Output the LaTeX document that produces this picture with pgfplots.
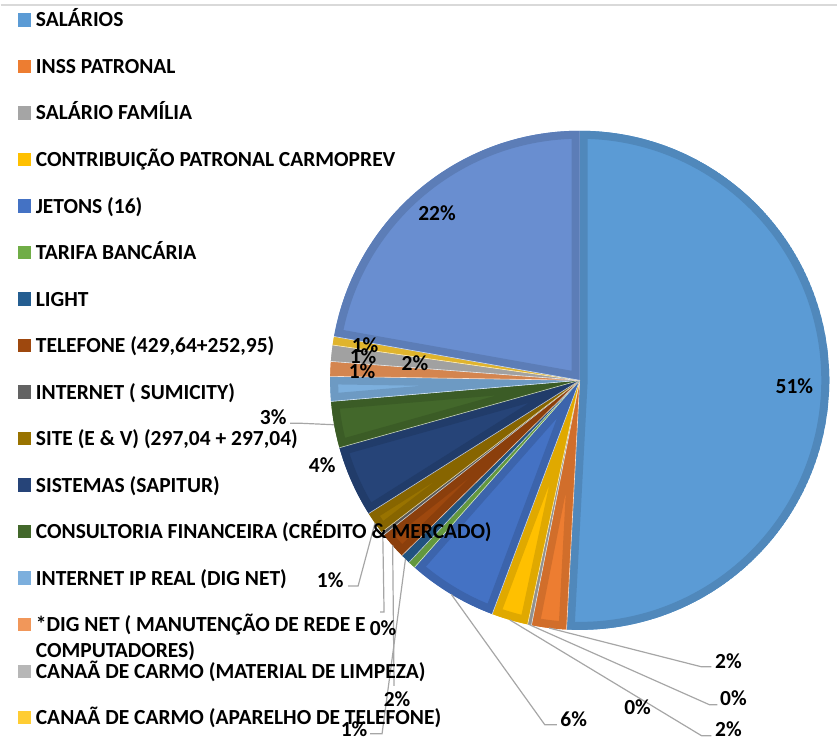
\documentclass[border=0pt]{standalone}
\usepackage{pgfplots}
\usepackage{pgfplotstable}
\pgfplotsset{compat=1.18}
\usepackage{fontspec}
\setmainfont{Carlito}
\definecolor{c1}{HTML}{5B9BD5}
\definecolor{c2}{HTML}{ED7D31}
\definecolor{c3}{HTML}{A5A5A5}
\definecolor{c4}{HTML}{FFC000}
\definecolor{c5}{HTML}{4472C4}
\definecolor{c6}{HTML}{70AD47}
\definecolor{c7}{HTML}{255E91}
\definecolor{c8}{HTML}{9E480E}
\definecolor{c9}{HTML}{636363}
\definecolor{c10}{HTML}{997300}
\definecolor{c11}{HTML}{264478}
\definecolor{c12}{HTML}{43682B}
\definecolor{c13}{HTML}{7CAFDD}
\definecolor{c14}{HTML}{F1975A}
\definecolor{c15}{HTML}{B7B7B7}
\definecolor{c16}{HTML}{FFCD33}
\definecolor{c17}{HTML}{698ED0}
\definecolor{leadgray}{HTML}{A6A6A6}

% value = share of each item (percent), clockwise from 12 o'clock
\pgfplotstableread[col sep=semicolon]{
value;col;lab;lx;ly;lead;ex;ey;hx;hy
50.75;c1;51;795;387;0;0;0;0;0
2.25;c2;2;729;662;1;702;668;712;668
0.25;c3;0;734;699;1;710;706;718;706
2.35;c4;2;729;730;1;702;737;712;737
5.8;c5;6;574;720;1;545;726;557;726
0.48;c6;0;638;708;0;0;0;0;0
0.62;c7;1;354;730;1;382;735;370;735
1.75;c8;2;397;700;1;394;687;394;687
0.22;c9;0;383;629;1;384;613;380;613
1.45;c10;1;330;581;1;358;587;348;587
4.6;c11;4;322;466;0;0;0;0;0
3.0;c12;3;273;418;1;300;424;290;424
1.6;c13;2;415;364;0;0;0;0;0
0.95;c14;1;362;372;0;0;0;0;0
1.05;c15;1;363;357;0;0;0;0;0
0.55;c16;1;365;346;0;0;0;0;0
22.15;c17;22;437;214;0;0;0;0;0
}\slices
\pgfplotstablecreatecol[create col/expr accum={\pgfmathaccuma + \thisrow{value}}{0}]{cum}{\slices}

\newcommand\lfont{\fontsize{21.6}{26}\selectfont\bfseries}

\begin{document}
\begin{tikzpicture}
\begin{axis}[x=1bp, y=1bp, xmin=0, xmax=838, ymin=0, ymax=749,
  y dir=reverse, hide axis, clip=false]
\pgfplotsextra{
  \path (axis cs:0,0) rectangle (axis cs:838,749);
  \draw[black!15, line width=1.5bp] (axis cs:0,5) -- (axis cs:838,5);
  \pgfplotstablegetelem{16}{cum}\of\slices \let\total\pgfplotsretval
  \foreach \i in {0,...,16}{
    \pgfplotstablegetelem{\i}{value}\of\slices \let\v\pgfplotsretval
    \pgfplotstablegetelem{\i}{cum}\of\slices \let\c\pgfplotsretval
    \pgfplotstablegetelem{\i}{col}\of\slices \let\col\pgfplotsretval
    \pgfmathsetmacro\aS{90-(\c-\v)/\total*360}
    \pgfmathsetmacro\aE{90-\c/\total*360}
    \begin{scope}
      \clip (axis cs:580,381) -- ++(\aS:250bp) arc[start angle=\aS, end angle=\aE, radius=250bp] -- cycle;
      \fill[\col] (axis cs:580,381) -- ++(\aS:250bp) arc[start angle=\aS, end angle=\aE, radius=250bp] -- cycle;
      \draw[\col!88!black, line width=16bp, line join=round] (axis cs:580,381) -- ++(\aS:250bp) arc[start angle=\aS, end angle=\aE, radius=250bp] -- cycle;
    \end{scope}
    \draw[white!70!\col, line width=0.6bp] (axis cs:580,381) -- ++(\aS:250bp);
  }
  % leader lines and data labels
  \foreach \i in {0,...,16}{
    \pgfplotstablegetelem{\i}{value}\of\slices \let\v\pgfplotsretval
    \pgfplotstablegetelem{\i}{cum}\of\slices \let\c\pgfplotsretval
    \pgfplotstablegetelem{\i}{lead}\of\slices \let\ld\pgfplotsretval
    \pgfplotstablegetelem{\i}{lab}\of\slices \let\lb\pgfplotsretval
    \pgfplotstablegetelem{\i}{lx}\of\slices \let\lx\pgfplotsretval
    \pgfplotstablegetelem{\i}{ly}\of\slices \let\ly\pgfplotsretval
    \pgfplotstablegetelem{\i}{ex}\of\slices \let\ex\pgfplotsretval
    \pgfplotstablegetelem{\i}{ey}\of\slices \let\ey\pgfplotsretval
    \pgfplotstablegetelem{\i}{hx}\of\slices \let\hx\pgfplotsretval
    \pgfplotstablegetelem{\i}{hy}\of\slices \let\hy\pgfplotsretval
    \pgfmathsetmacro\aM{90-(\c-\v/2)/\total*360}
    \ifnum\ld=1
      \draw[leadgray, line width=1.2bp] (axis cs:580,381) ++(\aM:250bp) -- (axis cs:\ex,\ey) -- (axis cs:\hx,\hy);
    \fi
    \node[inner sep=0pt, font=\lfont] at (axis cs:\lx,\ly) {\lb\%};
  }
  % legend
  \foreach \nm [count=\k] in {SALÁRIOS, INSS PATRONAL, SALÁRIO FAMÍLIA,
      CONTRIBUIÇÃO PATRONAL CARMOPREV, JETONS (16), TARIFA BANCÁRIA, LIGHT,
      {TELEFONE (429,64+252,95)}, INTERNET ( SUMICITY), {SITE (E \& V) (297,04 + 297,04)},
      SISTEMAS (SAPITUR), CONSULTORIA FINANCEIRA (CRÉDITO \& MERCADO),
      INTERNET IP REAL (DIG NET), *DIG NET ( MANUTENÇÃO DE REDE E,
      CANAÃ DE CARMO (MATERIAL DE LIMPEZA), CANAÃ DE CARMO (APARELHO DE TELEFONE)}{
    \pgfmathsetmacro\yy{20+46.6*(\k-1)}
    \pgfmathsetmacro\yt{\yy-6.7}
    \pgfmathsetmacro\yb{\yy+6.7}
    \pgfmathsetmacro\ybase{\yy+7}
    \fill[c\k] (axis cs:17.3,\yt) rectangle (axis cs:30.7,\yb);
    \node[anchor=base west, inner sep=0pt, font=\lfont] at (axis cs:35,\ybase) {\nm};
  }
  \node[anchor=base west, inner sep=0pt, font=\lfont] at (axis cs:35,659) {COMPUTADORES)};
}
\end{axis}
\end{tikzpicture}
\end{document}
